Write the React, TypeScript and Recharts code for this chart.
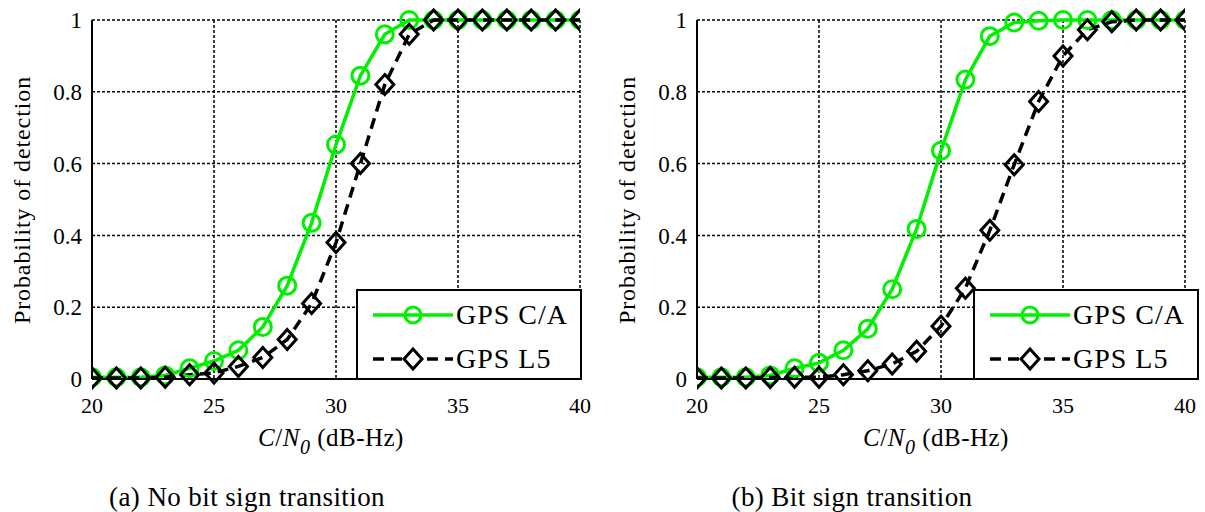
import React from 'react';
import { LineChart, Line, XAxis, YAxis, CartesianGrid } from 'recharts';

const snr = [20, 21, 22, 23, 24, 25, 26, 27, 28, 29, 30, 31, 32, 33, 34, 35, 36, 37, 38, 39, 40];

const caNoTransition = [0.005, 0.005, 0.005, 0.01, 0.03, 0.05, 0.08, 0.145, 0.26, 0.435, 0.653, 0.845, 0.96, 1, 1, 1, 1, 1, 1, 1, 1];
const l5NoTransition = [0.003, 0.003, 0.003, 0.005, 0.012, 0.017, 0.035, 0.06, 0.11, 0.21, 0.38, 0.6, 0.82, 0.96, 1, 1, 1, 1, 1, 1, 1];

const caTransition = [0.005, 0.005, 0.005, 0.01, 0.03, 0.045, 0.08, 0.14, 0.25, 0.418, 0.636, 0.834, 0.955, 0.993, 0.998, 1, 1, 1, 1, 1, 1];
const l5Transition = [0.003, 0.003, 0.003, 0.004, 0.005, 0.005, 0.012, 0.023, 0.042, 0.077, 0.147, 0.253, 0.414, 0.597, 0.773, 0.9, 0.973, 0.995, 1, 1, 1];

const xTicks = [20, 25, 30, 35, 40];
const yTicks = [0, 0.2, 0.4, 0.6, 0.8, 1];
const seriesNames = ['GPS C/A', 'GPS L5'];
const captions = ['(a) No bit sign transition', '(b) Bit sign transition'];
const yLabel = 'Probability of detection';

const GREEN = '#00f000';
const FONT = 'Liberation Serif, DejaVu Serif, serif';

const CircleDot = (props: any) => {
  const { cx, cy, index } = props;
  if (cx == null || cy == null) return <g key={`c${index}`} />;
  return <circle key={`c${index}`} cx={cx} cy={cy} r={8.5} fill="none" stroke={GREEN} strokeWidth={3} />;
};

const DiamondDot = (props: any) => {
  const { cx, cy, index } = props;
  if (cx == null || cy == null) return <g key={`d${index}`} />;
  const w = 9, h = 10;
  return (
    <path
      key={`d${index}`}
      d={`M${cx},${cy - h} L${cx + w},${cy} L${cx},${cy + h} L${cx - w},${cy} Z`}
      fill="none"
      stroke="#000"
      strokeWidth={3}
      strokeLinejoin="miter"
    />
  );
};

const XLabel = () => (
  <text x={331} y={446} textAnchor="middle" style={{ fontFamily: FONT, fontSize: 25, letterSpacing: 0.5 }} fill="#000">
    <tspan fontStyle="italic">C</tspan>
    <tspan>/</tspan>
    <tspan fontStyle="italic">N</tspan>
    <tspan fontStyle="italic" fontSize={20} dy={8}>0</tspan>
    <tspan dy={-8}> (dB-Hz)</tspan>
  </text>
);

const YLabel = () => (
  <text
    x={22}
    y={200}
    transform="rotate(-90 22 200)"
    textAnchor="middle"
    dominantBaseline="central"
    style={{ fontFamily: FONT, fontSize: 24, letterSpacing: 0.9 }}
    fill="#000"
  >
    {yLabel}
  </text>
);

const LegendBox = ({ left }: { left: number }) => (
  <div
    style={{
      position: 'absolute',
      left,
      top: 289,
      width: 222,
      height: 87,
      border: '2px solid #000',
      background: '#fff',
      fontFamily: FONT,
      fontSize: 28,
      letterSpacing: 1,
    }}
  >
    {seriesNames.map((name, i) => (
      <div key={name} style={{ position: 'absolute', left: 0, top: i === 0 ? 6 : 50, height: 36, width: 222 }}>
        <svg width={90} height={36} style={{ position: 'absolute', left: 12, top: 0 }}>
          {i === 0 ? (
            <g>
              <line x1={3} y1={18} x2={83} y2={18} stroke={GREEN} strokeWidth={3.5} />
              <circle cx={43} cy={18} r={8} fill="none" stroke={GREEN} strokeWidth={3} />
            </g>
          ) : (
            <g>
              <line x1={3} y1={18} x2={83} y2={18} stroke="#000" strokeWidth={3.5} strokeDasharray="11 7" />
              <path d="M43,8 L52,18 L43,28 L34,18 Z" fill="#fff" stroke="#000" strokeWidth={3} />
            </g>
          )}
        </svg>
        <span style={{ position: 'absolute', left: 98, top: 0, lineHeight: '36px', whiteSpace: 'nowrap' }}>{name}</span>
      </div>
    ))}
  </div>
);

const tickStyle = (size: number) => ({ fill: '#000', fontFamily: FONT, fontSize: size, style: { fontFamily: FONT } });

const Panel = ({ ca, l5, caption, left, legendLeft }: any) => {
  const data = snr.map((x, i) => ({ x, ca: ca[i], l5: l5[i] }));
  return (
    <div style={{ position: 'absolute', left, top: 0, width: 600, height: 512 }}>
      <LineChart width={600} height={512} data={data} margin={{ top: 20, right: 20, left: 32, bottom: 103 }} style={{ fontFamily: FONT }}>
        <CartesianGrid stroke="#000" strokeWidth={1.5} strokeDasharray="3 2" />
        <XAxis
          dataKey="x"
          type="number"
          domain={[20, 40]}
          ticks={xTicks}
          height={30}
          tickLine={false}
          tickSize={0}
          tickMargin={18}
          axisLine={{ stroke: '#000', strokeWidth: 2 }}
          tick={tickStyle(22)}
          allowDataOverflow
        />
        <YAxis
          type="number"
          domain={[0, 1]}
          ticks={yTicks}
          width={60}
          tickLine={false}
          tickSize={0}
          tickMargin={10}
          axisLine={{ stroke: '#000', strokeWidth: 2 }}
          tick={tickStyle(23)}
          tickFormatter={(v: number) => String(v)}
        />
        <Line
          dataKey="ca"
          stroke={GREEN}
          strokeWidth={3.5}
          dot={CircleDot}
          isAnimationActive={false}
          type="linear"
        />
        <Line
          dataKey="l5"
          stroke="#000"
          strokeWidth={3.5}
          strokeDasharray="11 7"
          dot={DiamondDot}
          isAnimationActive={false}
          type="linear"
        />
      </LineChart>
      <svg width={600} height={512} style={{ position: 'absolute', left: 0, top: 0, pointerEvents: 'none' }}>
        <XLabel />
        <YLabel />
      </svg>
      <LegendBox left={legendLeft} />
      <div
        style={{
          position: 'absolute',
          left: 0,
          top: 480,
          width: 494,
          textAlign: 'center',
          fontFamily: FONT,
          fontSize: 27,
          letterSpacing: 0.4,
          lineHeight: '34px',
          color: '#000',
        }}
      >
        {caption}
      </div>
    </div>
  );
};

export default function App() {
  return (
    <div style={{ position: 'absolute', left: 0, top: 0, width: 1205, height: 512, background: '#fff', overflow: 'hidden', fontFamily: FONT }}>
      <Panel ca={caNoTransition} l5={l5NoTransition} caption={captions[0]} left={0} legendLeft={356} />
      <Panel ca={caTransition} l5={l5Transition} caption={captions[1]} left={605} legendLeft={368} />
    </div>
  );
}
